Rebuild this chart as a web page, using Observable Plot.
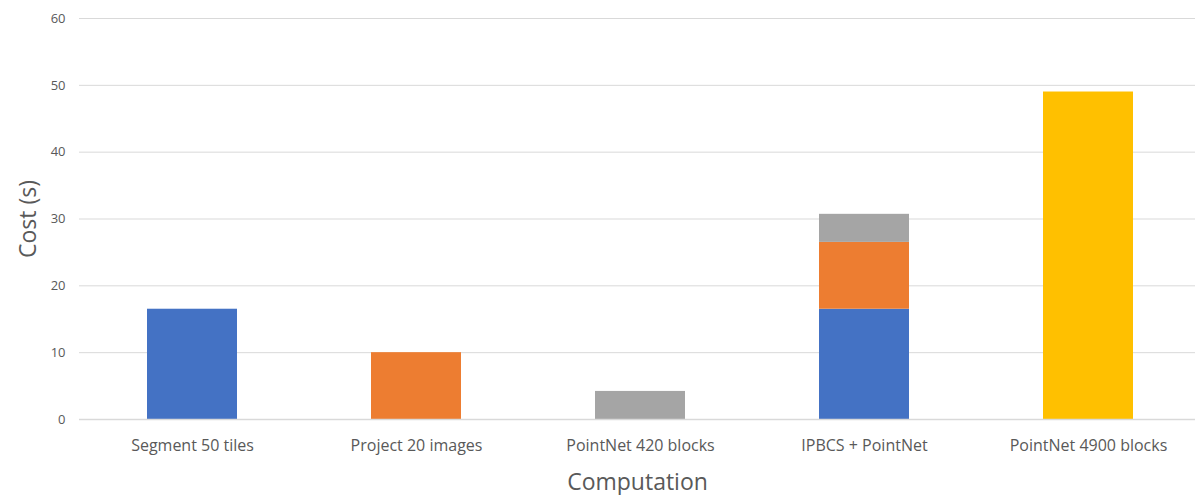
<!DOCTYPE html>
<html>
<head>
<meta charset="utf-8">
<script src="https://cdn.jsdelivr.net/npm/d3@7"></script>
<script src="https://cdn.jsdelivr.net/npm/@observablehq/plot@0.6"></script>
<style>
  html, body { margin: 0; padding: 0; background: #fff; }
  #chart svg { display: block; }
</style>
</head>
<body>
<div id="chart"></div>
<script>
const categories = ["Segment 50 tiles", "Project 20 images", "PointNet 420 blocks", "IPBCS + PointNet", "PointNet 4900 blocks"];
const components = ["Segment", "Project", "PointNet", "PointNet 4900"];
const segmentCost = [16.5, 0, 0, 16.5, 0];
const projectCost = [0, 10, 0, 10, 0];
const pointnetCost = [0, 0, 4.2, 4.2, 0];
const pointnet4900Cost = [0, 0, 0, 0, 49];
const componentColors = ["#4472C4", "#ED7D31", "#A5A5A5", "#FFC000"];
const yTicks = [0, 10, 20, 30, 40, 50, 60];

const series = [segmentCost, projectCost, pointnetCost, pointnet4900Cost];
const rows = [];
categories.forEach((cat, i) => {
  series.forEach((vals, j) => {
    if (vals[i] > 0) rows.push({cat, part: components[j], value: vals[i]});
  });
});

const font = "'Open Sans', 'Liberation Sans', sans-serif";

const chart = Plot.plot({
  width: 1195,
  height: 495,
  marginLeft: 79,
  marginRight: 0,
  marginTop: 18,
  marginBottom: 76,
  style: {fontFamily: font, background: "#fff"},
  x: {domain: categories, paddingInner: 0.6, paddingOuter: 0.3, range: [79, 1200]},
  y: {domain: [0, 60], ticks: yTicks},
  color: {domain: components, range: componentColors},
  marks: [
    Plot.gridY(yTicks, {stroke: "#d9d9d9", strokeOpacity: 1, strokeWidth: 1}),
    Plot.barY(rows, {x: "cat", y: "value", fill: "part"}),
    Plot.ruleY([0], {stroke: "#d9d9d9", strokeWidth: 1.5}),
    Plot.axisX({tickSize: 0, tickPadding: 20, fontSize: 16, color: "#595959",
      label: "Computation", labelAnchor: "center", labelOffset: 70}),
    Plot.axisY(yTicks, {tickSize: 0, tickPadding: 14, fontSize: 13, color: "#595959",
      label: "Cost (s)", labelAnchor: "center", labelArrow: "none", labelOffset: 60})
  ]
});

chart.querySelectorAll("g[aria-label='x-axis label'] text, g[aria-label='y-axis label'] text").forEach(t => {
  t.setAttribute("font-size", "23");
  t.style.fontSize = "23px";
  t.setAttribute("fill", "#595959");
});

document.getElementById("chart").appendChild(chart);
</script>
</body>
</html>
